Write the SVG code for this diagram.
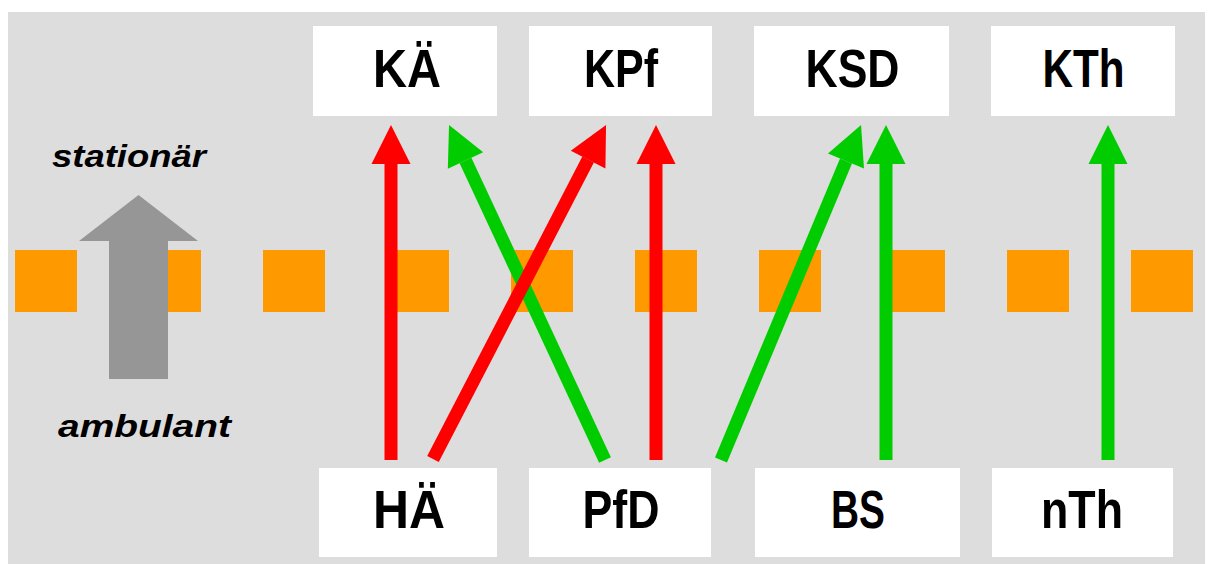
<svg xmlns="http://www.w3.org/2000/svg" width="1210" height="564" viewBox="0 0 1210 564">
<style>
.bg{fill:#DDDDDD}
.box{fill:#FFFFFF}
.sq{fill:#FF9900}
.lbl{font-family:"Liberation Sans",Arial,sans-serif;font-weight:bold;font-size:54px;fill:#000;text-anchor:middle}
.side{font-family:"Liberation Sans",Arial,sans-serif;font-weight:bold;font-style:italic;font-size:32px;fill:#000;text-anchor:middle}
.red{stroke:#FF0000;stroke-width:13;fill:none;marker-end:url(#hr)}
.green{stroke:#00CC00;stroke-width:13;fill:none;marker-end:url(#hg)}
</style>
<defs>
<marker id="hr" markerUnits="userSpaceOnUse" markerWidth="40" markerHeight="40" refX="0" refY="19.5" orient="auto" overflow="visible"><path d="M0,0 L39,19.5 L0,39 z" fill="#FF0000"/></marker>
<marker id="hg" markerUnits="userSpaceOnUse" markerWidth="40" markerHeight="40" refX="0" refY="19.5" orient="auto" overflow="visible"><path d="M0,0 L39,19.5 L0,39 z" fill="#00CC00"/></marker>
</defs>
<rect class="bg" x="8" y="12" width="1197" height="552"/>
<g id="boundary">
<rect class="sq" x="15" y="250" width="62" height="62"/>
<rect class="sq" x="139" y="250" width="62" height="62"/>
<rect class="sq" x="263" y="250" width="62" height="62"/>
<rect class="sq" x="387" y="250" width="62" height="62"/>
<rect class="sq" x="511" y="250" width="62" height="62"/>
<rect class="sq" x="635" y="250" width="62" height="62"/>
<rect class="sq" x="759" y="250" width="62" height="62"/>
<rect class="sq" x="883" y="250" width="62" height="62"/>
<rect class="sq" x="1007" y="250" width="62" height="62"/>
<rect class="sq" x="1131" y="250" width="62" height="62"/>
</g>
<g id="direction">
<polygon points="109,379 168,379 168,241 198,241 138.5,195 79,241 109,241" fill="#969696"/>
<text class="side" x="129" y="167" textLength="154" lengthAdjust="spacingAndGlyphs">stationär</text>
<text class="side" x="144.5" y="437" textLength="173" lengthAdjust="spacingAndGlyphs">ambulant</text>
</g>
<g id="node-KAe"><rect class="box" x="313" y="26" width="184" height="90"/><text class="lbl" x="407" y="87" textLength="68" lengthAdjust="spacingAndGlyphs">KÄ</text></g>
<g id="node-KPf"><rect class="box" x="529" y="26" width="183" height="90"/><text class="lbl" x="621" y="87" textLength="74" lengthAdjust="spacingAndGlyphs">KPf</text></g>
<g id="node-KSD"><rect class="box" x="754" y="26" width="195" height="90"/><text class="lbl" x="852.5" y="87" textLength="94" lengthAdjust="spacingAndGlyphs">KSD</text></g>
<g id="node-KTh"><rect class="box" x="991" y="26" width="184" height="90"/><text class="lbl" x="1083.5" y="87" textLength="82" lengthAdjust="spacingAndGlyphs">KTh</text></g>
<g id="node-HAe"><rect class="box" x="319" y="468" width="178" height="89"/><text class="lbl" x="409" y="528" textLength="72" lengthAdjust="spacingAndGlyphs">HÄ</text></g>
<g id="node-PfD"><rect class="box" x="529" y="468" width="182" height="89"/><text class="lbl" x="621" y="528" textLength="77" lengthAdjust="spacingAndGlyphs">PfD</text></g>
<g id="node-BS"><rect class="box" x="755" y="468" width="205" height="89"/><text class="lbl" x="858" y="528" textLength="54" lengthAdjust="spacingAndGlyphs">BS</text></g>
<g id="node-nTh"><rect class="box" x="992" y="468" width="181" height="89"/><text class="lbl" x="1082" y="528" textLength="82" lengthAdjust="spacingAndGlyphs">nTh</text></g>
<g id="connectors">
<line class="red" x1="391" y1="460" x2="391" y2="164"/>
<line class="green" x1="605" y1="460" x2="465.5" y2="160.4"/>
<line class="red" x1="433" y1="459" x2="588.1" y2="159.6"/>
<line class="red" x1="656" y1="460" x2="656" y2="164"/>
<line class="green" x1="721" y1="460" x2="846" y2="161"/>
<line class="green" x1="886" y1="460" x2="886" y2="164"/>
<line class="green" x1="1108" y1="460" x2="1108" y2="164"/>
</g>
</svg>
